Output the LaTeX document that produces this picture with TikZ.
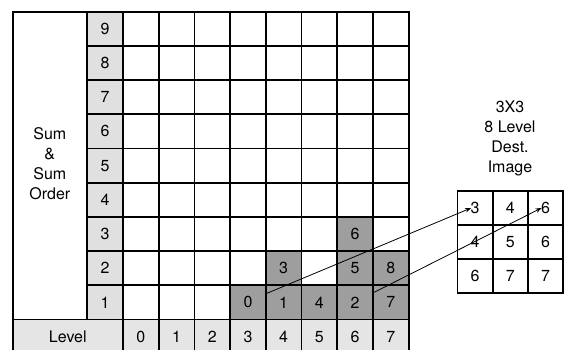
\documentclass[tikz,border=0pt]{standalone}
\usepackage{fontspec}
\setmainfont{TeX Gyre Heros}
\usetikzlibrary{arrows.meta,calc}
\begin{document}
\begin{tikzpicture}[x=1pt,y=-1pt,
  cellbox/.style={draw, line width=1.8pt, minimum width=35.7pt, minimum height=34.2pt,
    inner sep=0pt, font=\fontsize{16}{20}\selectfont},
  numbox/.style={cellbox, fill=black!12},
  hibox/.style={cellbox, fill=black!38},
  lvlbox/.style={cellbox, fill=black!10},
  destbox/.style={cellbox, minimum width=35.2pt, minimum height=34pt},
  lbl/.style={align=center, font=\fontsize{16}{20}\selectfont},
  arr/.style={line width=0.8pt, -{Stealth[length=6pt,width=4.5pt]}}
]
\useasboundingbox (0,0) rectangle (564,350);
\clip (0,0) rectangle (564,350);

% left label cell
\node[cellbox, minimum width=74.4pt, minimum height=307.8pt] (sumcell) at (49.8,165.6) {};
\node[lbl] (sumtext) at (49.8,164) {Sum\\\&\\Sum\\Order};

% number column
\foreach \r in {1,...,9}
  \node[numbox] (n\r) at (105,{28.8+(9-\r)*34.2}) {\r};

% grid
\foreach \c in {0,...,7}
  \foreach \r in {1,...,9}
    \node[cellbox] (g\c-\r) at ({140.85+35.7*\c},{28.8+(9-\r)*34.2}) {};

% highlighted cells
\node[hibox] (s0) at ({140.85+35.7*3},{28.8+8*34.2}) {0};
\node[hibox] (s1) at ({140.85+35.7*4},{28.8+8*34.2}) {1};
\node[hibox] (s4) at ({140.85+35.7*5},{28.8+8*34.2}) {4};
\node[hibox] (s2) at ({140.85+35.7*6},{28.8+8*34.2}) {2};
\node[hibox] (s7) at ({140.85+35.7*7},{28.8+8*34.2}) {7};
\node[hibox] (s3) at ({140.85+35.7*4},{28.8+7*34.2}) {3};
\node[hibox] (s5) at ({140.85+35.7*6},{28.8+7*34.2}) {5};
\node[hibox] (s8) at ({140.85+35.7*7},{28.8+7*34.2}) {8};
\node[hibox] (s6) at ({140.85+35.7*6},{28.8+6*34.2}) {6};

% level row
\node[lvlbox, minimum width=110.4pt] (levlbl) at (67.8,336.6) {Level};
\foreach \c in {0,...,7}
  \node[lvlbox] (l\c) at ({140.85+35.7*\c},336.6) {\c};

% destination image
\node[lbl] (title) at (510,138) {3X3\\8 Level\\Dest.\\Image};
\foreach \v [count=\i from 0] in {3,4,6}
  \node[destbox] (d1\i) at ({475.1+35.2*\i},208) {\v};
\foreach \v [count=\i from 0] in {4,5,6}
  \node[destbox] (d2\i) at ({475.1+35.2*\i},242) {\v};
\foreach \v [count=\i from 0] in {6,7,7}
  \node[destbox] (d3\i) at ({475.1+35.2*\i},276) {\v};

% arrows
\draw[arr] ([yshift=9pt]s0.east) -- ([xshift=-4pt]d10.center);
\draw[arr] ([yshift=9pt]s7.west) -- ([xshift=-4pt]d12.center);
\end{tikzpicture}
\end{document}
